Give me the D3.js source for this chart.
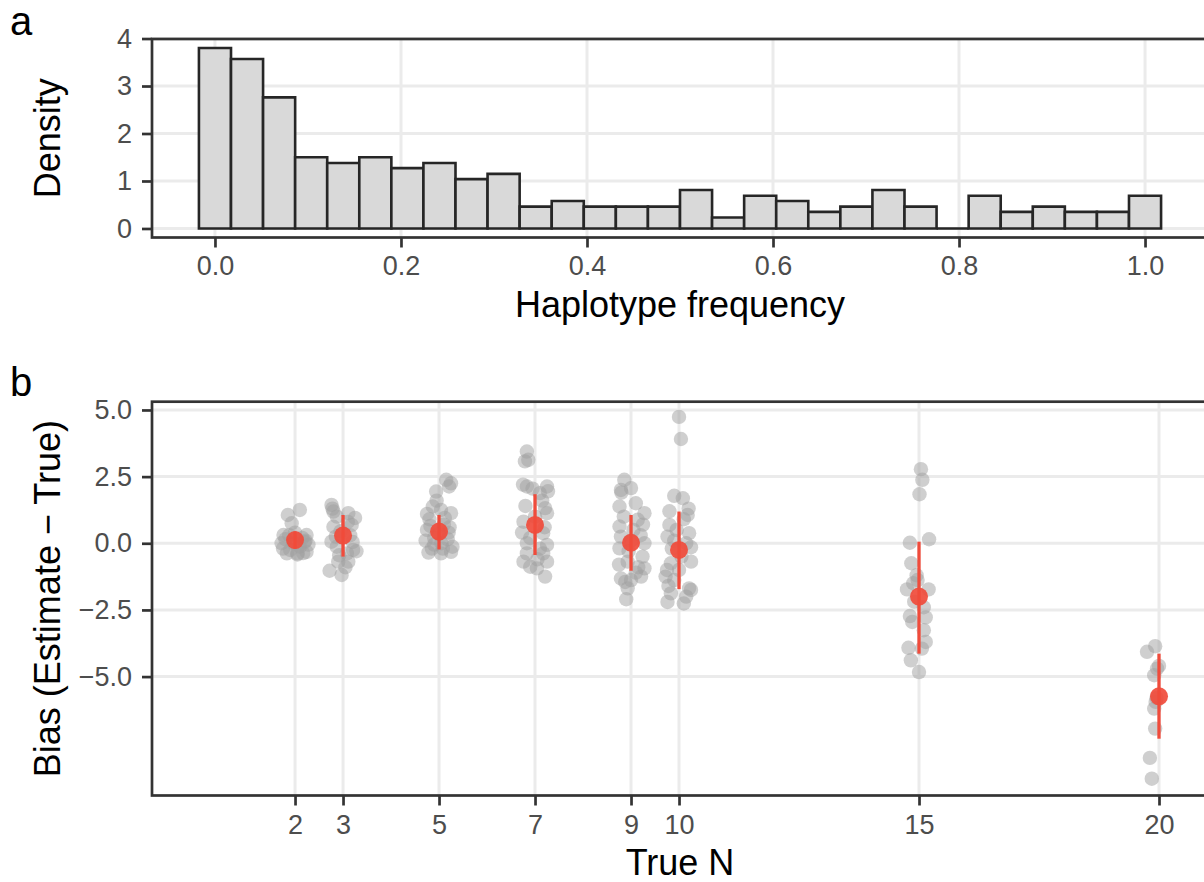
<!DOCTYPE html>
<html>
<head>
<meta charset="utf-8">
<script src="https://cdn.jsdelivr.net/npm/d3@7"></script>
<style>
  body { margin: 0; background: #fff; }
  text { font-family: "Liberation Sans", Arial, sans-serif; }
</style>
</head>
<body>
<svg id="chart"></svg>
<script>
// ---- panel a: histogram of haplotype frequencies (density per bin, 30 bins centred on k/29)
var histDensity = [3.80, 3.57, 2.76, 1.50, 1.38, 1.50, 1.27, 1.38, 1.04, 1.15,
                   0.46, 0.58, 0.46, 0.46, 0.46, 0.81, 0.23, 0.69, 0.58, 0.35,
                   0.46, 0.81, 0.46, 0.00, 0.69, 0.35, 0.46, 0.35, 0.35, 0.69];
var binWidth = 1 / 29;
var freqTicks = [0, 0.2, 0.4, 0.6, 0.8, 1.0];
var densityTicks = [0, 1, 2, 3, 4];

// ---- panel b: bias by true N
var trueN = [2, 3, 5, 7, 9, 10, 15, 20];
var meanBias = [0.12, 0.29, 0.44, 0.69, 0.02, -0.25, -2.00, -5.74];
var lowBias  = [-0.20, -0.50, -0.23, -0.44, -1.03, -1.72, -4.14, -7.33];
var highBias = [0.44, 1.06, 1.06, 1.84, 1.06, 1.19, 0.06, -4.14];
var biasTicks = [-5, -2.5, 0, 2.5, 5];

// replicate points per group: [jitter offset in N units, bias]
var ptsN2 = [[-0.15,1.06],[0.1,1.25],[-0.07,0.75],[-0.24,0.31],[0.24,0.31],[-0.28,0.0],[-0.17,-0.38],
  [0.24,-0.32],[0.1,-0.13],[-0.03,0.0],[0.17,-0.37],[0.05,-0.38],[-0.2,0.15],[0.2,0.05],[0.28,-0.05],
  [-0.1,-0.25],[0.0,0.4],[0.15,0.2],[-0.25,-0.2],[0.05,-0.42],[-0.12,0.3],[0.22,0.1]];
var ptsN3 = [[-0.24,1.44],[-0.2,1.19],[-0.13,1.0],[0.11,1.13],[0.18,0.69],[-0.2,0.62],[-0.24,0.06],
  [0.21,-0.25],[0.11,-0.69],[-0.1,-0.69],[-0.28,-1.03],[-0.03,-1.19],[-0.13,-0.13],[0.08,-0.38],
  [0.25,0.95],[0.15,0.3],[-0.05,0.45],[0.2,0.05],[-0.15,0.25],[0.05,-0.9],[0.28,-0.3],[-0.22,1.3],
  [0.1,0.8],[-0.08,-0.45]];
var ptsN5 = [[0.15,2.38],[0.21,2.13],[-0.06,1.94],[0.25,1.13],[0.04,1.25],[-0.13,1.38],[0.28,-0.13],
  [0.25,-0.32],[0.04,-0.38],[-0.2,0.9],[-0.25,0.5],[0.1,0.7],[0.2,0.4],[-0.1,0.2],[-0.28,0.1],
  [0.05,0.0],[-0.15,-0.2],[0.18,0.15],[-0.22,-0.35],[0.12,0.95],[-0.05,1.6],[0.25,2.25],[-0.18,0.65],
  [0.08,-0.2],[0.22,0.6],[-0.1,-0.05],[0.0,0.35],[-0.25,1.1]];
var ptsN7 = [[-0.17,3.44],[-0.21,3.07],[-0.14,3.13],[-0.17,2.13],[0.25,2.13],[0.1,1.88],[0.21,1.32],
  [0.25,1.13],[-0.24,0.81],[0.17,0.38],[-0.17,0.0],[0.25,-0.06],[-0.24,-0.69],[-0.1,-0.88],[0.25,-0.69],
  [0.21,-1.25],[0.04,-0.94],[-0.17,-0.38],[0.17,-0.38],[-0.25,2.2],[0.15,1.6],[-0.2,1.4],[0.0,1.0],
  [0.2,0.6],[-0.1,0.2],[0.1,-0.2],[-0.05,2.05],[0.27,1.95],[-0.27,0.4],[0.05,-0.6]];
var ptsN9 = [[-0.14,2.38],[-0.21,2.0],[0.0,2.07],[-0.24,1.38],[0.28,1.13],[0.14,0.88],[-0.24,0.63],
  [-0.21,0.25],[0.28,0.0],[-0.24,-0.19],[0.24,-0.5],[-0.07,-0.69],[0.28,-0.94],[-0.21,-1.32],[0.0,-1.38],
  [-0.07,-1.69],[-0.1,-2.1],[0.21,-1.25],[0.1,1.5],[-0.15,1.0],[0.2,0.3],[0.05,0.5],[-0.05,-0.3],
  [0.15,-0.9],[-0.25,-0.8],[0.25,0.7],[-0.2,1.9],[0.1,-1.1],[0.0,0.1],[-0.12,-1.45]];
var ptsN10 = [[0.0,4.74],[0.04,3.91],[-0.1,1.78],[0.08,1.69],[0.18,1.06],[-0.2,0.69],[-0.24,0.25],
  [0.21,0.38],[0.25,-0.69],[-0.17,-0.75],[-0.28,-1.25],[-0.1,-1.38],[0.21,-1.69],[-0.17,-1.88],
  [-0.24,-2.2],[0.1,-2.26],[0.25,-1.75],[-0.25,-1.0],[0.15,0.0],[-0.05,0.5],[0.2,1.3],[-0.15,-0.2],
  [0.05,-0.5],[0.25,-0.15],[-0.2,1.2],[0.0,-1.0],[0.15,-2.0],[-0.1,0.1],[0.1,0.9],[-0.22,-1.6]];
var ptsN15 = [[0.04,2.78],[0.07,2.38],[0.01,1.84],[-0.19,0.02],[0.21,0.15],[-0.16,-0.75],[-0.03,-1.38],
  [-0.25,-1.73],[0.2,-1.73],[-0.1,-2.19],[-0.19,-2.73],[-0.14,-2.95],[0.14,-2.78],[0.1,-3.26],
  [0.14,-3.7],[-0.22,-3.92],[0.06,-3.95],[-0.17,-4.39],[0.0,-4.83],[-0.05,-1.2],[0.1,-2.4],[-0.12,-1.5]];
var ptsN20 = [[-0.08,-3.86],[-0.25,-4.07],[-0.04,-4.7],[-0.1,-4.95],[-0.07,-5.95],[-0.1,-6.2],
  [-0.08,-6.95],[-0.19,-8.05],[-0.15,-8.83],[0.0,-4.6],[-0.05,-5.8]];
var groupPoints = [ptsN2, ptsN3, ptsN5, ptsN7, ptsN9, ptsN10, ptsN15, ptsN20];

// ---- layout
var width = 1204, height = 882;
var borderCol = "#333333", gridCol = "#ebebeb", tickTextCol = "#4d4d4d";
var lineW = 2.7;

var svg = d3.select("#chart").attr("width", width).attr("height", height);

var pa = { left: 152, right: 1208, top: 39, bottom: 237.5 };
var pb = { left: 152, right: 1207, top: 401.7, bottom: 795.5 };

// scales
var xA = d3.scaleLinear().domain([-0.0677, 1.0677]).range([pa.left, pa.right]);
var yA = d3.scaleLinear().domain([-0.19, 3.99]).range([pa.bottom, pa.top]);
var xB = d3.scaleLinear().domain([-0.98, 21]).range([pb.left, pb.right]);
var yB = d3.scaleLinear().domain([-9.46, 5.31]).range([pb.bottom, pb.top]);

function drawGrid(g, p, xs, ys, xt, yt) {
  g.selectAll(".gx").data(xt).enter().append("line")
    .attr("x1", function (d) { return xs(d); }).attr("x2", function (d) { return xs(d); })
    .attr("y1", p.top).attr("y2", p.bottom)
    .attr("stroke", gridCol).attr("stroke-width", 3);
  g.selectAll(".gy").data(yt).enter().append("line")
    .attr("x1", p.left).attr("x2", p.right)
    .attr("y1", function (d) { return ys(d); }).attr("y2", function (d) { return ys(d); })
    .attr("stroke", gridCol).attr("stroke-width", 3);
}

function drawFrame(p, xs, ys, xt, yt, xfmt, yfmt, xPad) {
  svg.append("rect")
    .attr("x", p.left).attr("y", p.top)
    .attr("width", p.right - p.left).attr("height", p.bottom - p.top)
    .attr("fill", "none").attr("stroke", borderCol).attr("stroke-width", lineW);

  var ax = svg.append("g").attr("transform", "translate(0," + p.bottom + ")")
    .call(d3.axisBottom(xs).tickValues(xt).tickFormat(xfmt).tickSize(10).tickPadding(xPad));
  var ay = svg.append("g").attr("transform", "translate(" + p.left + ",0)")
    .call(d3.axisLeft(ys).tickValues(yt).tickFormat(yfmt).tickSize(10).tickPadding(10));
  [ax, ay].forEach(function (a) {
    a.select(".domain").remove();
    a.selectAll(".tick line").attr("stroke", borderCol).attr("stroke-width", lineW);
    a.selectAll(".tick text").attr("fill", tickTextCol).style("font-size", "27px")
      .style("font-family", "'Liberation Sans', Arial, sans-serif");
  });
}

// ---------------- panel a
var ga = svg.append("g");
drawGrid(ga, pa, xA, yA, freqTicks, densityTicks);

ga.selectAll(".bar").data(histDensity).enter().append("path")
  .attr("class", "bar")
  .attr("d", function (d, i) {
    var x0 = xA(i * binWidth - binWidth / 2), x1 = xA(i * binWidth + binWidth / 2);
    var y0 = yA(0), y1 = yA(d);
    return "M" + x0 + "," + y0 + "V" + y1 + "H" + x1 + "V" + y0 + "Z";
  })
  .attr("fill", "#d9d9d9")
  .attr("stroke", "#262626")
  .attr("stroke-width", 2.6)
  .attr("stroke-linejoin", "miter");

drawFrame(pa, xA, yA, freqTicks, densityTicks, d3.format(".1f"), d3.format("d"), 8);

// ---------------- panel b
var gb = svg.append("g");
drawGrid(gb, pb, xB, yB, trueN, biasTicks);

var flatPts = [];
groupPoints.forEach(function (pts, gi) {
  pts.forEach(function (p) { flatPts.push({ n: trueN[gi] + p[0], bias: p[1] }); });
});

gb.selectAll(".pt").data(flatPts).enter().append("circle")
  .attr("class", "pt")
  .attr("cx", function (d) { return xB(d.n); })
  .attr("cy", function (d) { return yB(d.bias); })
  .attr("r", 7.2)
  .attr("fill", "#a0a0a0")
  .attr("fill-opacity", 0.5);

gb.selectAll(".err").data(trueN).enter().append("line")
  .attr("class", "err")
  .attr("x1", function (d) { return xB(d); }).attr("x2", function (d) { return xB(d); })
  .attr("y1", function (d, i) { return yB(lowBias[i]); })
  .attr("y2", function (d, i) { return yB(highBias[i]); })
  .attr("stroke", "#f04b3b").attr("stroke-width", 3.3);

gb.selectAll(".mean").data(trueN).enter().append("circle")
  .attr("class", "mean")
  .attr("cx", function (d) { return xB(d); })
  .attr("cy", function (d, i) { return yB(meanBias[i]); })
  .attr("r", 9)
  .attr("fill", "#f04b3b")
  .attr("fill-opacity", 0.92);

drawFrame(pb, xB, yB, trueN, biasTicks, d3.format("d"), d3.format(".1f"), 9.5);

// ---------------- titles and panel letters
svg.append("text").attr("x", 680).attr("y", 317).attr("text-anchor", "middle")
  .style("font-size", "36px").attr("fill", "#000").text("Haplotype frequency");
svg.append("text").attr("x", 680).attr("y", 875).attr("text-anchor", "middle")
  .style("font-size", "36px").attr("fill", "#000").text("True N");
svg.append("text").attr("transform", "translate(60," + ((pa.top + pa.bottom) / 2) + ") rotate(-90)")
  .attr("text-anchor", "middle").style("font-size", "36px").attr("fill", "#000").text("Density");
svg.append("text").attr("transform", "translate(60," + ((pb.top + pb.bottom) / 2) + ") rotate(-90)")
  .attr("text-anchor", "middle").style("font-size", "36px").attr("fill", "#000")
  .text("Bias (Estimate \u2212 True)");
svg.append("text").attr("x", 10).attr("y", 35).style("font-size", "40px").attr("fill", "#000").text("a");
svg.append("text").attr("x", 10).attr("y", 396).style("font-size", "40px").attr("fill", "#000").text("b");
</script>
</body>
</html>
